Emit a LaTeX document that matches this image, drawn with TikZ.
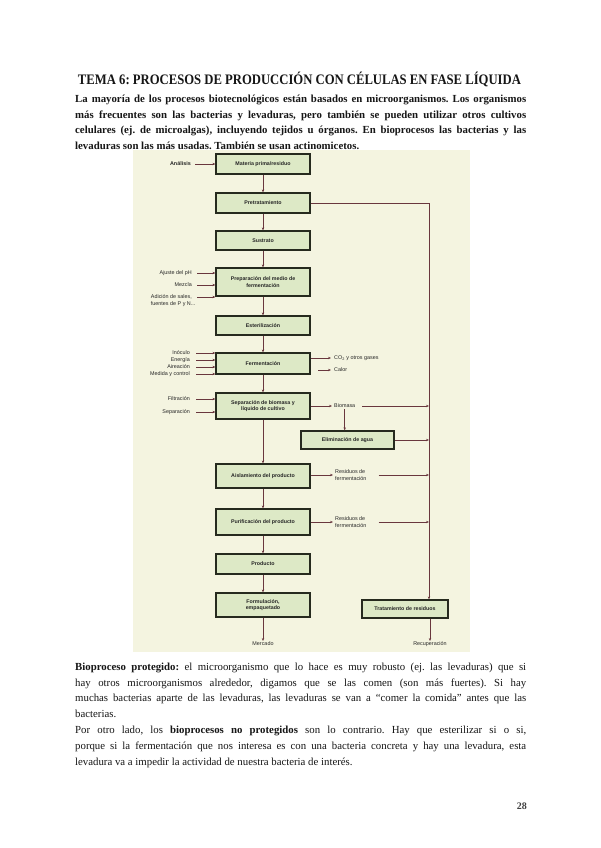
\documentclass[tikz,border=0pt]{standalone}
\usepackage{fontspec}
\setmainfont{Liberation Serif}
\newfontfamily\figfont{Liberation Sans}
\usetikzlibrary{arrows.meta}
\definecolor{figbg}{RGB}{244,244,224}
\definecolor{boxfill}{RGB}{221,233,198}
\definecolor{boxdraw}{RGB}{38,42,30}
\definecolor{conn}{RGB}{105,55,62}
\definecolor{txt}{RGB}{22,22,22}
\frenchspacing
\begin{document}
\begin{tikzpicture}[x=1pt,y=-1pt,
  stagebox/.style={draw=boxdraw, line width=1.2pt, fill=boxfill, minimum width=94pt, inner sep=0pt, align=center, font=\figfont\fontsize{5.3}{6.6}\selectfont\bfseries, text=black!85},
  lbl/.style={inner sep=0pt, font=\figfont\fontsize{5.4}{6.8}\selectfont, text=black!85},
  flow/.style={draw=conn, line width=0.6pt, -{Stealth[length=3pt,width=2.4pt]}},
  para/.style={anchor=north west, inner sep=0pt, text width=451pt, align=justify, text=txt}
]
\useasboundingbox (0,0) rectangle (600,848);
\fill[white] (0,0) rectangle (600,848);

% ---------- title and text ----------
\node[anchor=base, inner sep=0pt, text=txt] (title) at (299.5,85)
  {\resizebox{443pt}{\height}{\fontsize{14.5}{17}\selectfont\bfseries TEMA 6: PROCESOS DE PRODUCCIÓN CON CÉLULAS EN FASE LÍQUIDA}};

\node[para, font=\fontsize{10.8}{15.8}\selectfont\bfseries\frenchspacing] (intro) at (75,91)
{\strut La mayoría de los procesos biotecnológicos están basados en microorganismos. Los organismos\linebreak
más frecuentes son las bacterias y levaduras, pero también se pueden utilizar otros cultivos\linebreak
celulares (ej. de microalgas), incluyendo tejidos u órganos. En bioprocesos las bacterias y las\linebreak
levaduras son las más usadas. También se usan actinomicetos.};

\node[para, font=\fontsize{10.8}{15.8}\selectfont\frenchspacing] (body) at (75,659)
{\strut\textbf{Bioproceso protegido:} el microorganismo que lo hace es muy robusto (ej. las levaduras) que si\linebreak
hay otros microorganismos alrededor, digamos que se las comen (son más fuertes). Si hay\linebreak
muchas bacterias aparte de las levaduras, las levaduras se van a “comer la comida” antes que las\linebreak
bacterias.\par
\noindent Por otro lado, los \textbf{bioprocesos no protegidos} son lo contrario. Hay que esterilizar si o si,\linebreak
porque si la fermentación que nos interesa es con una bacteria concreta y hay una levadura, esta\linebreak
levadura va a impedir la actividad de nuestra bacteria de interés.};

\node[anchor=base east, inner sep=0pt, text=black!75, font=\fontsize{10}{12}\selectfont\bfseries] (pagenum) at (527,809) {28};

% ---------- figure ----------
\fill[figbg] (133,150) rectangle (470,652);

\node[stagebox, minimum height=20pt] (materia) at (263,164) {Materia prima/residuo};
\node[stagebox, minimum height=20pt] (pretrat) at (263,203) {Pretratamiento};
\node[stagebox, minimum height=19pt] (sustrato) at (263,240.5) {Sustrato};
\node[stagebox, minimum height=28pt] (prep) at (263,282) {Preparación del medio de\\fermentación};
\node[stagebox, minimum height=19pt] (ester) at (263,325.5) {Esterilización};
\node[stagebox, minimum height=21pt] (ferm) at (263,363.5) {Fermentación};
\node[stagebox, minimum height=26pt] (sep) at (263,406) {Separación de biomasa y\\líquido de cultivo};
\node[stagebox, minimum height=18pt, minimum width=93pt] (elim) at (347.5,440) {Eliminación de agua};
\node[stagebox, minimum height=24pt] (aisl) at (263,476) {Aislamiento del producto};
\node[stagebox, minimum height=26pt] (purif) at (263,522) {Purificación del producto};
\node[stagebox, minimum height=20pt] (prod) at (263,564) {Producto};
\node[stagebox, minimum height=24pt] (formul) at (263,605) {Formulación,\\empaquetado};
\node[stagebox, minimum height=18pt, minimum width=86pt] (trat) at (405,609) {Tratamiento de residuos};

\node[lbl, anchor=north] (mercado) at (263,641) {Mercado};
\node[lbl, anchor=north] (recup) at (430,641) {Recuperación};

% left inputs
\node[lbl, anchor=east] (analisis) at (191,164) {\bfseries Análisis};
\node[lbl, anchor=east] (ajuste) at (192,273) {Ajuste del pH};
\node[lbl, anchor=east] (mezcla) at (192,285) {Mezcla};
\node[lbl, anchor=east] (adicion) at (192,297) {Adición de sales,};
\node[lbl, anchor=west] (fuentes) at ([yshift=-7pt]adicion.west) {fuentes de P y N...};
\node[lbl, anchor=east] (inoculo) at (190,353) {Inóculo};
\node[lbl, anchor=east] (energia) at (190,360) {Energía};
\node[lbl, anchor=east] (aireacion) at (190,367) {Aireación};
\node[lbl, anchor=east] (medida) at (190,374) {Medida y control};
\node[lbl, anchor=east] (filtracion) at (190,399) {Filtración};
\node[lbl, anchor=east] (separacion) at (190,412) {Separación};

% right outputs
\node[lbl, anchor=west] (co2) at (334,358) {CO\textsubscript{2} y otros gases};
\node[lbl, anchor=west] (calor) at (334,370) {Calor};
\node[lbl, anchor=west] (biomasa) at (334,406) {Biomasa};
\node[lbl, anchor=west, align=left] (res1) at (335,475) {Residuos de\\fermentación};
\node[lbl, anchor=west, align=left] (res2) at (335,522) {Residuos de\\fermentación};

\coordinate (vline) at (429,0);
\coordinate (calorstart) at (318,370);

% main chain
\draw[flow] (materia) -- (pretrat);
\draw[flow] (pretrat) -- (sustrato);
\draw[flow] (sustrato) -- (prep);
\draw[flow] (prep) -- (ester);
\draw[flow] (ester) -- (ferm);
\draw[flow] (ferm) -- (sep);
\draw[flow] (sep) -- (aisl);
\draw[flow] (aisl) -- (purif);
\draw[flow] (purif) -- (prod);
\draw[flow] (prod) -- (formul);
\draw[flow] (formul) -- (mercado);

% inputs
\draw[flow, shorten <=4pt] (analisis.east) -- (materia.west);
\foreach \n in {ajuste,mezcla,adicion}
  \draw[flow, shorten <=5pt] (\n.east) -- (\n.east -| prep.west);
\foreach \n in {inoculo,energia,aireacion,medida}
  \draw[flow, shorten <=6pt] (\n.east) -- (\n.east -| ferm.west);
\foreach \n in {filtracion,separacion}
  \draw[flow, shorten <=6pt] (\n.east) -- (\n.east -| sep.west);

% outputs
\draw[flow, shorten >=3pt] (co2.west -| ferm.east) -- (co2.west);
\draw[flow, shorten >=3pt] (calorstart) -- (calor.west);
\draw[flow, shorten >=2pt] (biomasa.west -| sep.east) -- (biomasa.west);
\draw[flow, shorten <=1pt] (biomasa.south) -- (biomasa.south |- elim.north);
\draw[flow, shorten >=2pt] (res1.west -| aisl.east) -- (res1.west);
\draw[flow, shorten >=2pt] (res2.west -| purif.east) -- (res2.west);

% collector line to waste treatment
\draw[flow] (pretrat.east) -- (pretrat.east -| vline) -- (vline |- trat.north);
\draw[flow, shorten <=7pt] (biomasa.east) -- (biomasa.east -| vline);
\draw[flow] (elim.east) -- (elim.east -| vline);
\draw[flow, shorten <=12pt] (res1.east) -- (res1.east -| vline);
\draw[flow, shorten <=12pt] (res2.east) -- (res2.east -| vline);
\draw[flow] (trat.south -| recup.north) -- (recup.north);
\end{tikzpicture}
\end{document}
